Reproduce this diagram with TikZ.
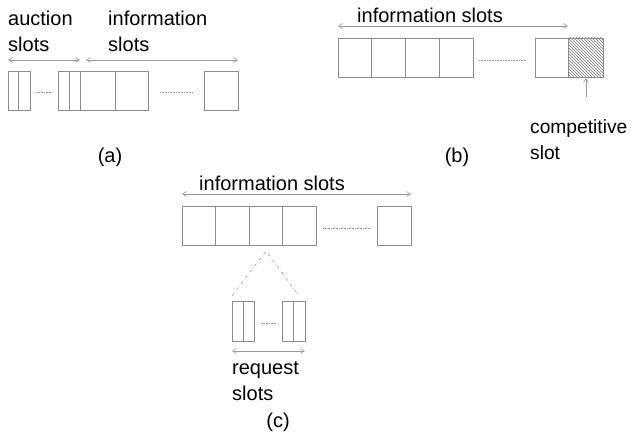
\documentclass[tikz,border=0pt]{standalone}
\usepackage{fontspec}
\setmainfont{Liberation Sans}
\usetikzlibrary{arrows.meta,patterns,calc}
\begin{document}
\begin{tikzpicture}[x=1pt,y=-1pt,
  slot/.style={draw=black!45,line width=0.7pt,rectangle,inner sep=0pt,outer sep=0pt,minimum height=39pt},
  dots/.style={draw=black!45,line width=0.6pt,densely dotted},
  arr/.style={draw=black!40,line width=0.6pt,{Straight Barb[length=4pt,width=5pt]}-{Straight Barb[length=4pt,width=5pt]}},
  uparr/.style={draw=black!40,line width=0.6pt,-{Straight Barb[length=4pt,width=5pt]}},
  cone/.style={draw=black!45,line width=0.5pt,dash dot},
  lbl/.style={font=\fontsize{20}{26}\selectfont,inner sep=0pt,align=left},
  capt/.style={font=\fontsize{20}{26}\selectfont,inner sep=0pt}]
\useasboundingbox (0,0) rectangle (631,436);
% ---------- (a)
\node[slot,minimum width=10pt,anchor=north west] (a1) at (8,71) {};
\node[slot,minimum width=12pt,anchor=north west] (a2) at (18,71) {};
\node[slot,minimum width=11pt,anchor=north west] (a3) at (58,71) {};
\node[slot,minimum width=11pt,anchor=north west] (a4) at (69,71) {};
\node[slot,minimum width=35pt,anchor=north west] (a5) at (80,71) {};
\node[slot,minimum width=33pt,anchor=north west] (a6) at (115,71) {};
\node[slot,minimum width=34pt,anchor=north west] (a7) at (204,71) {};
\draw[dots] ($(a2.east)+(6,2)$) -- ($(a3.west)+(-6,2)$);
\draw[dots] ($(a6.east)+(12,2)$) -- ($(a7.west)+(-11,2)$);
\coordinate (aa1) at (8,60); \coordinate (aa2) at (80,60);
\coordinate (ai1) at (86,60); \coordinate (ai2) at (238,60);
\draw[arr] (aa1) -- (aa2);
\draw[arr] (ai1) -- (ai2);
\node[lbl,anchor=north west] (ta) at (8,11) {auction\\slots};
\node[lbl,anchor=north west] (ti) at (108,11) {information\\slots};
\node[capt] (la) at (110,157) {(a)};
% ---------- (b)
\node[slot,minimum width=33.75pt,anchor=north west] (b1) at (338,38) {};
\node[slot,minimum width=33.75pt,anchor=north west] (b2) at (371.75,38) {};
\node[slot,minimum width=33.75pt,anchor=north west] (b3) at (405.5,38) {};
\node[slot,minimum width=33.75pt,anchor=north west] (b4) at (439.25,38) {};
\node[slot,minimum width=33pt,anchor=north west] (b5) at (535,38) {};
\node[slot,minimum width=35pt,anchor=north west,pattern=north west lines,pattern color=black!55] (b6) at (568,38) {};
\draw[dots] ($(b4.east)+(6,3)$) -- ($(b5.west)+(-8,3)$);
\coordinate (ba1) at (338,26); \coordinate (ba2) at (568,26);
\draw[arr] (ba1) -- (ba2);
\node[lbl,anchor=west] (tb) at (357,15) {information slots};
\coordinate (cs) at (586,97);
\coordinate (csend) at (586,78);
\draw[uparr] (cs) -- (csend);
\node[lbl,anchor=north west,font=\fontsize{19.2}{26}\selectfont] (tc) at (530,119) {competitive\\slot};
\node[capt] (lb) at (457,157) {(b)};
% ---------- (c)
\node[slot,minimum width=33.5pt,anchor=north west] (c1) at (182,206) {};
\node[slot,minimum width=33.5pt,anchor=north west] (c2) at (215.5,206) {};
\node[slot,minimum width=33.5pt,anchor=north west] (c3) at (249,206) {};
\node[slot,minimum width=33.5pt,anchor=north west] (c4) at (282.5,206) {};
\node[slot,minimum width=34pt,anchor=north west] (c5) at (377,206) {};
\draw[dots] ($(c4.east)+(7,3)$) -- ($(c5.west)+(-7,3)$);
\coordinate (ca1) at (182,194); \coordinate (ca2) at (411,194);
\draw[arr] (ca1) -- (ca2);
\node[lbl,anchor=west] (tcc) at (199,183) {information slots};
\node[slot,minimum width=11pt,minimum height=40pt,anchor=north west] (r1) at (232,301) {};
\node[slot,minimum width=11pt,minimum height=40pt,anchor=north west] (r2) at (243,301) {};
\node[slot,minimum width=11pt,minimum height=40pt,anchor=north west] (r3) at (282,301) {};
\node[slot,minimum width=12pt,minimum height=40pt,anchor=north west] (r4) at (293,301) {};
\draw[dots] ($(r2.east)+(7,2)$) -- ($(r3.west)+(-5,2)$);
\coordinate (apex) at (266,251);
\coordinate (cl) at (232,296); \coordinate (cr) at (299,296);
\draw[cone] (cl) -- (apex) -- (cr);
\coordinate (ra1) at (232,351); \coordinate (ra2) at (305,351);
\draw[arr] (ra1) -- (ra2);
\node[lbl,anchor=north west] (tr) at (232,361) {request\\slots};
\node[capt] (lc) at (278,422) {(c)};
\end{tikzpicture}
\end{document}
